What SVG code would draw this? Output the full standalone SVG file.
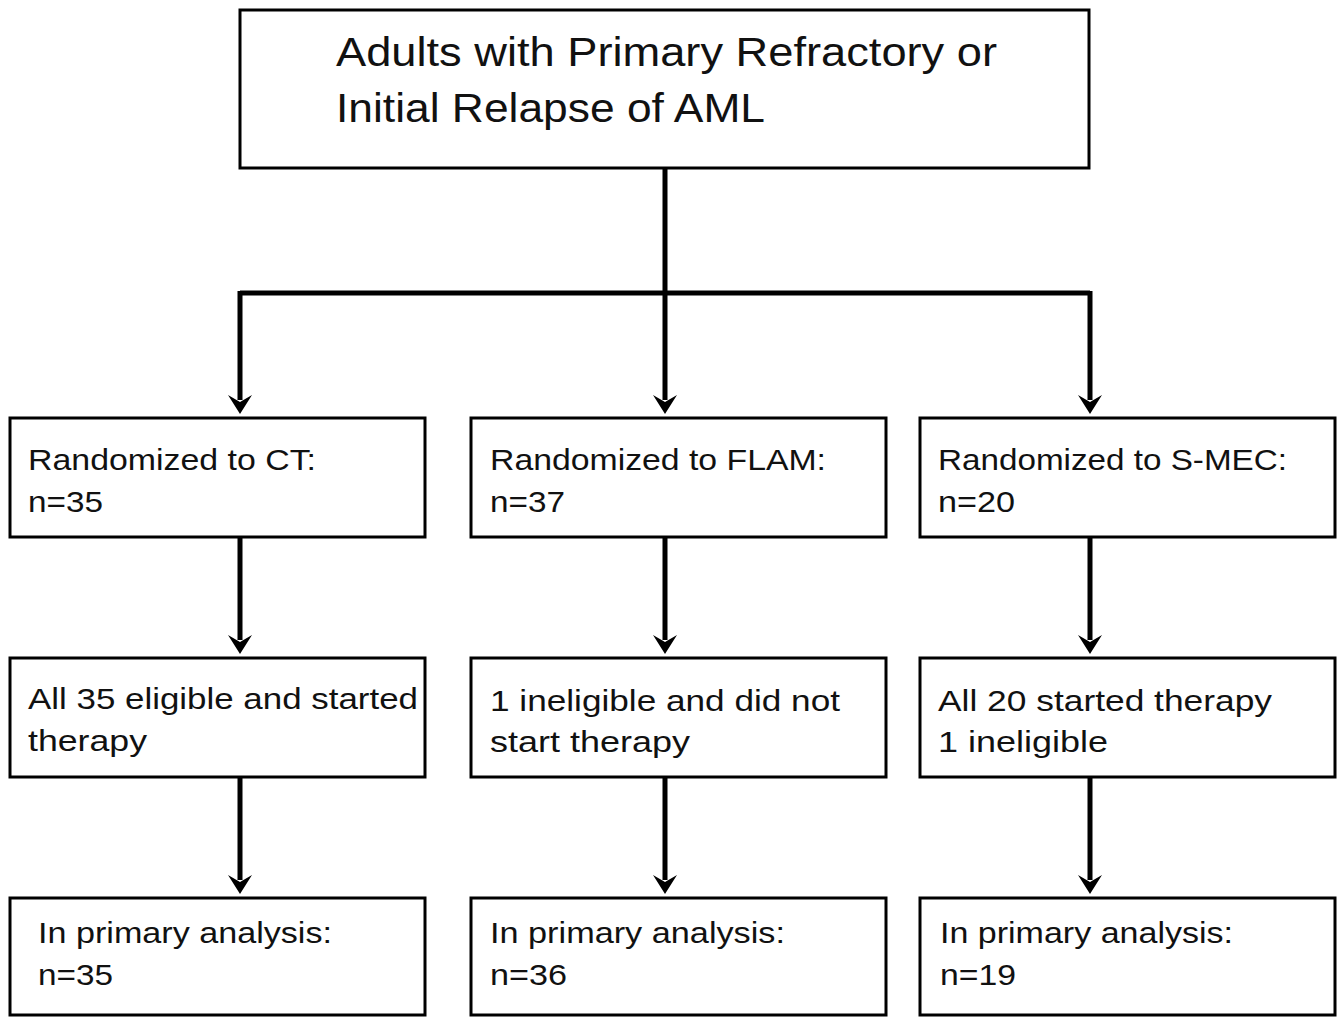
<svg xmlns="http://www.w3.org/2000/svg" width="1342" height="1017" viewBox="0 0 1342 1017">
<style>
.box{fill:#fff;stroke:#000;stroke-width:3}
.t{font-family:"Liberation Sans",Arial,sans-serif;font-size:30px;fill:#111}
.tt{font-family:"Liberation Sans",Arial,sans-serif;font-size:40px;fill:#111}
.c{fill:none;stroke:#000;stroke-width:5}
</style>
<defs>
<path id="head" d="M-12,-13 L0,-6 L12,-13 L0,6 Z" fill="#000"/>
</defs>
<rect width="1342" height="1017" fill="#fff"/>
<g id="connectors">
<path class="c" d="M665,168 V293 M240,293 H1090 M240,291 V400 M665,293 V400 M1090,291 V400"/>
<path class="c" d="M240,537 V640 M665,537 V640 M1090,537 V640"/>
<path class="c" d="M240,777 V880 M665,777 V880 M1090,777 V880"/>
<use href="#head" x="240" y="408"/><use href="#head" x="665" y="408"/><use href="#head" x="1090" y="408"/>
<use href="#head" x="240" y="648"/><use href="#head" x="665" y="648"/><use href="#head" x="1090" y="648"/>
<use href="#head" x="240" y="888"/><use href="#head" x="665" y="888"/><use href="#head" x="1090" y="888"/>
</g>
<g id="top">
<rect class="box" x="240" y="10" width="849" height="158"/>
<text class="tt" x="336" y="66" textLength="661" lengthAdjust="spacingAndGlyphs">Adults with Primary Refractory or</text>
<text class="tt" x="336" y="122" textLength="429" lengthAdjust="spacingAndGlyphs">Initial Relapse of AML</text>
</g>
<g id="ct1">
<rect class="box" x="10" y="418" width="415" height="119"/>
<text class="t" x="28" y="470" textLength="288" lengthAdjust="spacingAndGlyphs">Randomized to CT:</text>
<text class="t" x="28" y="512" textLength="75" lengthAdjust="spacingAndGlyphs">n=35</text>
</g>
<g id="flam1">
<rect class="box" x="471" y="418" width="415" height="119"/>
<text class="t" x="490" y="470" textLength="336" lengthAdjust="spacingAndGlyphs">Randomized to FLAM:</text>
<text class="t" x="490" y="512" textLength="75" lengthAdjust="spacingAndGlyphs">n=37</text>
</g>
<g id="smec1">
<rect class="box" x="920" y="418" width="415" height="119"/>
<text class="t" x="938" y="470" textLength="349" lengthAdjust="spacingAndGlyphs">Randomized to S-MEC:</text>
<text class="t" x="938" y="512" textLength="77" lengthAdjust="spacingAndGlyphs">n=20</text>
</g>
<g id="ct2">
<rect class="box" x="10" y="658" width="415" height="119"/>
<text class="t" x="28" y="709" textLength="390" lengthAdjust="spacingAndGlyphs">All 35 eligible and started</text>
<text class="t" x="28" y="751" textLength="119" lengthAdjust="spacingAndGlyphs">therapy</text>
</g>
<g id="flam2">
<rect class="box" x="471" y="658" width="415" height="119"/>
<text class="t" x="490" y="711" textLength="350" lengthAdjust="spacingAndGlyphs">1 ineligible and did not</text>
<text class="t" x="490" y="752" textLength="200" lengthAdjust="spacingAndGlyphs">start therapy</text>
</g>
<g id="smec2">
<rect class="box" x="920" y="658" width="415" height="119"/>
<text class="t" x="938" y="711" textLength="334" lengthAdjust="spacingAndGlyphs">All 20 started therapy</text>
<text class="t" x="938" y="752" textLength="170" lengthAdjust="spacingAndGlyphs">1 ineligible</text>
</g>
<g id="ct3">
<rect class="box" x="10" y="898" width="415" height="117"/>
<text class="t" x="38" y="943" textLength="294" lengthAdjust="spacingAndGlyphs">In primary analysis:</text>
<text class="t" x="38" y="985" textLength="75" lengthAdjust="spacingAndGlyphs">n=35</text>
</g>
<g id="flam3">
<rect class="box" x="471" y="898" width="415" height="117"/>
<text class="t" x="490" y="943" textLength="295" lengthAdjust="spacingAndGlyphs">In primary analysis:</text>
<text class="t" x="490" y="985" textLength="77" lengthAdjust="spacingAndGlyphs">n=36</text>
</g>
<g id="smec3">
<rect class="box" x="920" y="898" width="415" height="117"/>
<text class="t" x="940" y="943" textLength="293" lengthAdjust="spacingAndGlyphs">In primary analysis:</text>
<text class="t" x="940" y="985" textLength="76" lengthAdjust="spacingAndGlyphs">n=19</text>
</g>
</svg>
